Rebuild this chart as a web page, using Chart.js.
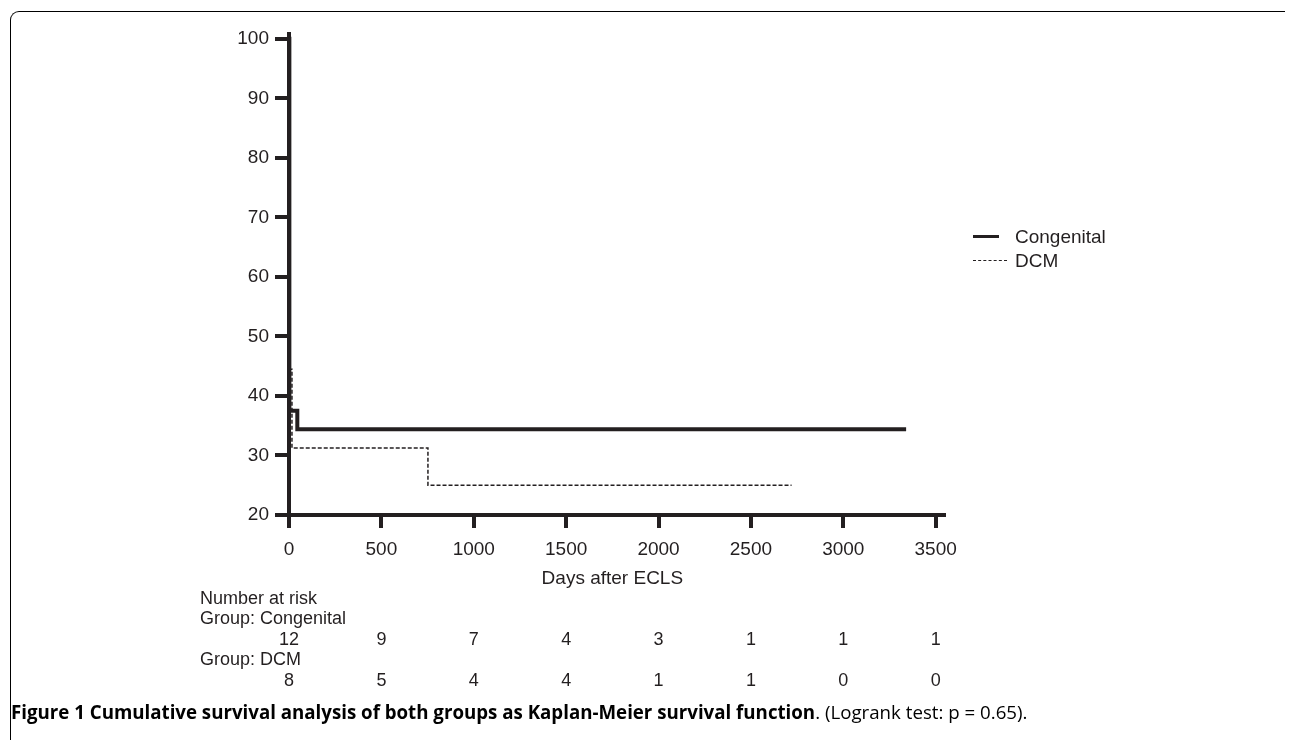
<!DOCTYPE html>
<html>
<head>
<meta charset="utf-8">
<script src="https://cdn.jsdelivr.net/npm/chart.js@4.4.1/dist/chart.umd.min.js"></script>
<style>
  html, body { margin: 0; padding: 0; background: #fff; }
  body { width: 1290px; height: 740px; position: relative; overflow: hidden; font-family: "Liberation Sans", Arial, sans-serif; color: #231f20; }
  #frame { position: absolute; left: 10px; top: 11px; width: 1275px; height: 740px; border-top: 1px solid #000; border-left: 1px solid #000; border-top-left-radius: 9px; box-sizing: border-box; }
  #wrap { position: absolute; left: 0; top: 0; width: 1290px; height: 740px; }
  .leg { position: absolute; left: 973px; height: 24px; font-size: 19px; line-height: 24px; white-space: nowrap; }
  .leg .s { position: absolute; left: 0; top: 11px; }
  .leg .t { position: absolute; left: 42px; top: 0; }
  #caption { position: absolute; left: 11px; top: 700px; font-family: "Open Sans", "Noto Sans", sans-serif; font-size: 18.7px; line-height: 24px; white-space: nowrap; color: #000; }
  #caption b { font-weight: 700; }
</style>
</head>
<body>
<div id="frame"></div>
<div id="wrap"><canvas id="c" width="1290" height="740"></canvas></div>
<div class="leg" style="top:225px"><span class="s" style="width:26px;border-top:3px solid #231f20;top:10px"></span><span class="t">Congenital</span></div>
<div class="leg" style="top:249px"><span class="s" style="width:34px;border-top:1.5px dashed #231f20;"></span><span class="t">DCM</span></div>
<div id="caption"><b>Figure 1 Cumulative survival analysis of both groups as Kaplan-Meier survival function</b>. (Logrank test: p = 0.65).</div>
<script>
// ---- data ----
const timeTicks = [0, 500, 1000, 1500, 2000, 2500, 3000, 3500];
const survivalTicks = [20, 30, 40, 50, 60, 70, 80, 90, 100];
const congenitalDays = [0, 2, 45, 3340];
const congenitalSurvival = [100, 37.5, 34.4, 34.4];
const dcmDays = [0, 5, 16, 752, 2720];
const dcmSurvival = [100, 44.5, 31.25, 25, 25];
const riskCongenital = [12, 9, 7, 4, 3, 1, 1, 1];
const riskDcm = [8, 5, 4, 4, 1, 1, 0, 0];
const xTitle = 'Days after ECLS';
const riskTitle = 'Number at risk';
const groupLabels = ['Group: Congenital', 'Group: DCM'];

const ink = '#231f20';
const fam = '"Liberation Sans", Arial, sans-serif';

const toPts = (xs, ys) => xs.map((x, i) => ({ x: x, y: ys[i] }));

const riskPlugin = {
  id: 'riskTable',
  afterDraw(chart) {
    const ctx = chart.ctx;
    const xs = chart.scales.x;
    ctx.save();
    ctx.fillStyle = ink;
    ctx.textBaseline = 'middle';
    ctx.font = '19px ' + fam;
    ctx.textAlign = 'center';
    const mid = (xs.getPixelForValue(timeTicks[0]) + xs.getPixelForValue(timeTicks[timeTicks.length - 1])) / 2;
    ctx.fillText(xTitle, mid, 579);
    ctx.font = '18px ' + fam;
    ctx.textAlign = 'left';
    ctx.fillText(riskTitle, 200, 599);
    ctx.fillText(groupLabels[0], 200, 619);
    ctx.fillText(groupLabels[1], 200, 660);
    ctx.textAlign = 'center';
    timeTicks.forEach((t, i) => {
      const px = xs.getPixelForValue(t);
      ctx.fillText(String(riskCongenital[i]), px, 640);
      ctx.fillText(String(riskDcm[i]), px, 681);
    });
    ctx.restore();
  }
};

new Chart(document.getElementById('c'), {
  type: 'line',
  data: {
    datasets: [
      {
        label: 'Congenital',
        data: toPts(congenitalDays, congenitalSurvival),
        borderColor: ink,
        borderWidth: 4,
        stepped: 'before',
        pointRadius: 0,
        fill: false
      },
      {
        label: 'DCM',
        data: toPts(dcmDays, dcmSurvival),
        borderColor: ink,
        borderWidth: 1.5,
        borderDash: [4, 2],
        stepped: 'before',
        pointRadius: 0,
        fill: false
      }
    ]
  },
  options: {
    responsive: false,
    animation: false,
    devicePixelRatio: 1,
    layout: { padding: { left: 0, top: 34, right: 1290 - 944, bottom: 0 } },
    plugins: { legend: { display: false }, tooltip: { enabled: false } },
    scales: {
      x: {
        type: 'linear',
        min: 0,
        max: 3545,
        afterFit(s) { s.height = 225; },
        afterBuildTicks(s) { s.ticks = timeTicks.map(v => ({ value: v })); },
        grid: { drawOnChartArea: false, drawTicks: true, tickLength: 13, tickWidth: 4, tickColor: ink, lineWidth: 4, color: ink },
        border: { display: true, width: 4, color: ink },
        ticks: { color: ink, font: { family: fam, size: 19 }, padding: 10, maxRotation: 0, autoSkip: false, callback: v => String(v) }
      },
      y: {
        type: 'linear',
        min: 20,
        max: 100.8,
        afterFit(s) { s.width = 289; },
        afterBuildTicks(s) { s.ticks = survivalTicks.map(v => ({ value: v })); },
        grid: { drawOnChartArea: false, drawTicks: true, tickLength: 14, tickWidth: 4, tickColor: ink, lineWidth: 4, color: ink },
        border: { display: true, width: 4, color: ink },
        ticks: { color: ink, font: { family: fam, size: 19 }, padding: 6, autoSkip: false, callback: v => String(v) }
      }
    }
  },
  plugins: [riskPlugin]
});
</script>
</body>
</html>
